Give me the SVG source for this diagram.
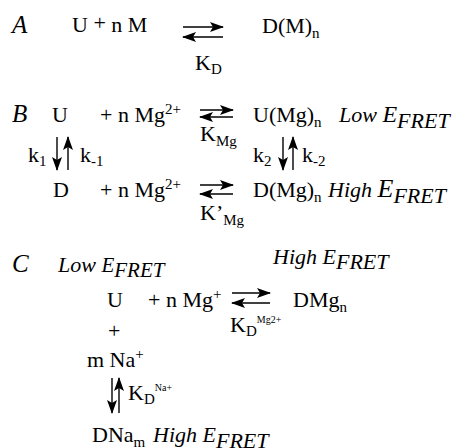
<svg xmlns="http://www.w3.org/2000/svg" width="458" height="448" viewBox="0 0 458 448" font-family="'Liberation Serif','Times New Roman',serif">
<style>
text{font-family:"Liberation Serif","Times New Roman",serif;fill:#000;font-size:22px}
.lab{font-style:italic;font-size:25px}
.it{font-style:italic}
.sub{font-size:15px}
.sm{font-size:10px}
.ln{stroke:#000;stroke-width:1.4;fill:none}
</style>
<defs>
<marker id="ah" viewBox="0 0 14 10" refX="13" refY="5" markerWidth="14" markerHeight="10" markerUnits="userSpaceOnUse" orient="auto">
<path d="M0,0 L14,5 L0,10 L3,5 Z" fill="#000"/>
</marker>
</defs>
<g id="panelA">
<text class="lab" x="12" y="33">A</text>
<text x="72" y="32">U <tspan dy="-2">+</tspan><tspan dy="2"> n M</tspan></text>
<text x="262" y="33">D(M)<tspan class="sub" dy="5">n</tspan></text>
<text x="195" y="70">K<tspan class="sub" dy="4">D</tspan></text>
</g>
<g id="panelB">
<text class="lab" x="12" y="122">B</text>
<text x="52" y="122">U</text>
<text x="100" y="122">+ n Mg<tspan class="sub" dy="-8">2+</tspan></text>
<text x="253" y="122">U(Mg)<tspan class="sub" dy="5">n</tspan></text>
<text class="it" x="339" y="122" font-size="22">Low <tspan font-size="24">E</tspan><tspan dy="6">FRET</tspan></text>
<text x="200" y="141">K<tspan class="sub" dy="5">Mg</tspan></text>
<text x="28" y="162">k<tspan class="sub" dy="4">1</tspan></text>
<text x="80" y="162">k<tspan class="sub" dy="4">-1</tspan></text>
<text x="253" y="162">k<tspan class="sub" dy="4">2</tspan></text>
<text x="302" y="162">k<tspan class="sub" dy="4">-2</tspan></text>
<text x="53" y="197">D</text>
<text x="100" y="197">+ n Mg<tspan class="sub" dy="-8">2+</tspan></text>
<text x="253" y="197">D(Mg)<tspan class="sub" dy="5">n</tspan></text>
<text class="it" x="328" y="197" font-size="23">High <tspan font-size="26">E</tspan><tspan dy="6">FRET</tspan></text>
<text x="200" y="220">K’<tspan class="sub" dy="5">Mg</tspan></text>
</g>
<g id="panelC">
<text class="lab" x="12" y="272">C</text>
<text class="it" x="58" y="272" font-size="16">Low <tspan font-size="21">E</tspan><tspan font-size="21" dy="5">FRET</tspan></text>
<text class="it" x="273" y="264" font-size="19">High <tspan font-size="22">E</tspan><tspan font-size="22" dy="5">FRET</tspan></text>
<text x="107" y="307">U</text>
<text x="148" y="307">+ n Mg<tspan class="sub" dy="-8">+</tspan></text>
<text x="293" y="307">DMg<tspan class="sub" dy="5">n</tspan></text>
<text x="230" y="332">K<tspan class="sub" dy="4">D</tspan><tspan class="sm" dy="-13">Mg2+</tspan></text>
<text x="108" y="338">+</text>
<text x="87" y="367">m Na<tspan class="sub" dy="-8">+</tspan></text>
<text x="128" y="400">K<tspan class="sub" dy="4">D</tspan><tspan class="sm" dy="-13">Na+</tspan></text>
<text x="92" y="442">DNa<tspan class="sub" dy="5">m</tspan></text>
<text class="it" x="153" y="442" font-size="20">High <tspan font-size="22">E</tspan><tspan font-size="22" dy="6">FRET</tspan></text>
</g>
<g id="connectors">
<path class="ln" d="M183,27 H223" marker-end="url(#ah)"/>
<path class="ln" d="M223,37 H183" marker-end="url(#ah)"/>
<path class="ln" d="M200,110 H233" marker-end="url(#ah)"/>
<path class="ln" d="M233,117 H200" marker-end="url(#ah)"/>
<path class="ln" d="M200,185 H233" marker-end="url(#ah)"/>
<path class="ln" d="M233,194 H200" marker-end="url(#ah)"/>
<path class="ln" d="M232,293 H270" marker-end="url(#ah)"/>
<path class="ln" d="M270,303 H232" marker-end="url(#ah)"/>
<path class="ln" d="M57,137 V170" marker-end="url(#ah)"/>
<path class="ln" d="M68,170 V137" marker-end="url(#ah)"/>
<path class="ln" d="M283,137 V170" marker-end="url(#ah)"/>
<path class="ln" d="M293,170 V137" marker-end="url(#ah)"/>
<path class="ln" d="M112,378 V413" marker-end="url(#ah)"/>
<path class="ln" d="M119,413 V378" marker-end="url(#ah)"/>
</g>
</svg>
